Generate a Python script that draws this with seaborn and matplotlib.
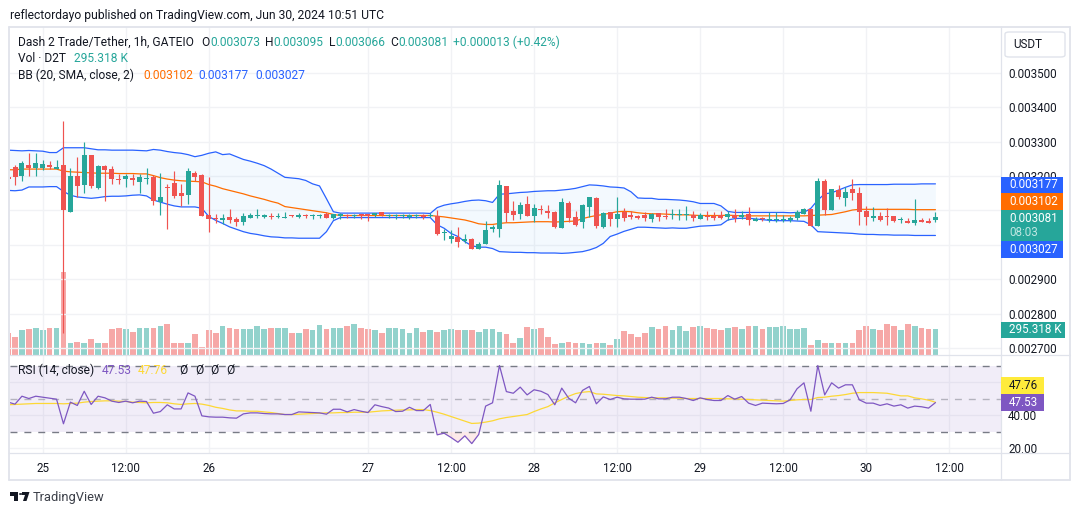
import matplotlib
matplotlib.use("Agg")
import numpy as np
import pandas as pd
import matplotlib.pyplot as plt
import seaborn as sns
from matplotlib.patches import Rectangle, FancyBboxPatch, Circle, Polygon
from matplotlib.lines import Line2D

# prices are in millionths of USDT, volume in thousands
opens = [3196,3226,3200,3232,3223,3223,3232,3220,3232,3095,
         3200,3174,3261,3165,3229,3220,3191,3191,3194,3183,
         3192,3197,3125,3168,3180,3151,3145,3209,3203,3087,
         3078,3072,3081,3075,3066,3078,3084,3081,3084,3082,
         3079,3085,3082,3087,3083,3083,3090,3078,3083,3086,
         3083,3087,3087,3086,3095,3083,3084,3084,3082,3084,
         3087,3083,3083,3035,3017,3023,3011,3017,2988,3002,
         3046,3046,3171,3098,3089,3119,3084,3105,3098,3095,
         3049,3121,3081,3066,3110,3136,3052,3095,3075,3095,
         3087,3084,3087,3075,3092,3084,3086,3087,3086,3087,
         3075,3084,3084,3086,3081,3087,3081,3089,3070,3078,
         3072,3072,3072,3072,3078,3089,3104,3055,3185,3101,
         3159,3136,3162,3151,3098,3078,3084,3084,3084,3073,
         3069,3063,3072,3069,3073]
highs = [3205,3232,3244,3267,3267,3247,3244,3247,3360,3222,
         3255,3299,3261,3232,3232,3229,3206,3206,3206,3206,
         3223,3203,3209,3177,3215,3177,3223,3215,3206,3197,
         3090,3090,3104,3081,3093,3093,3104,3090,3093,3093,
         3096,3087,3093,3090,3090,3090,3096,3090,3092,3089,
         3089,3090,3090,3092,3095,3089,3088,3089,3089,3089,
         3089,3092,3101,3046,3043,3052,3031,3020,3008,3069,
         3058,3188,3171,3127,3124,3142,3119,3116,3116,3098,
         3136,3127,3098,3119,3139,3139,3095,3095,3139,3107,
         3098,3087,3095,3092,3092,3104,3104,3104,3113,3098,
         3092,3098,3095,3098,3098,3104,3098,3110,3081,3081,
         3095,3095,3087,3084,3101,3107,3104,3194,3191,3162,
         3174,3168,3191,3168,3113,3110,3095,3107,3084,3081,
         3078,3133,3078,3078,3095]
lows = [3180,3174,3186,3200,3200,3218,3220,3219,2744,3095,
        3139,3151,3165,3162,3127,3177,3177,3168,3174,3151,
        3177,3116,3087,3046,3136,3113,3119,3186,3084,3037,
        3064,3061,3062,3055,3058,3078,3078,3078,3075,3078,
        3078,3081,3078,3078,3075,3078,3078,3074,3075,3078,
        3078,3075,3069,3081,3083,3078,3075,3078,3075,3078,
        3075,3081,3028,3014,3005,2994,3005,2988,2988,3002,
        3037,3023,3066,3072,3075,3084,3066,3089,3078,3049,
        3049,3066,3055,3049,3081,3049,3049,3055,3052,3069,
        3075,3075,3069,3066,3069,3075,3075,3072,3072,3069,
        3075,3072,3072,3075,3072,3066,3075,3058,3069,3069,
        3066,3066,3066,3066,3072,3089,3055,3055,3087,3101,
        3133,3113,3130,3058,3058,3069,3069,3058,3066,3063,
        3063,3058,3066,3063,3066]
closes = [3190,3197,3238,3223,3238,3235,3226,3226,3101,3200,
          3171,3261,3171,3229,3218,3191,3189,3200,3189,3197,
          3194,3127,3139,3166,3142,3142,3215,3197,3084,3075,
          3075,3078,3072,3066,3084,3087,3087,3086,3082,3084,
          3081,3083,3087,3084,3085,3085,3078,3089,3089,3084,
          3086,3085,3085,3091,3086,3087,3086,3086,3087,3087,
          3080,3087,3031,3037,3026,3008,3017,2988,3002,3043,
          3052,3174,3092,3087,3116,3084,3107,3102,3092,3052,
          3124,3078,3058,3116,3139,3055,3092,3075,3089,3078,
          3081,3078,3078,3089,3081,3082,3089,3089,3087,3078,
          3087,3080,3078,3078,3089,3078,3087,3072,3075,3074,
          3075,3075,3075,3078,3095,3104,3055,3185,3101,3162,
          3139,3153,3151,3095,3081,3084,3072,3082,3069,3075,
          3063,3072,3066,3063,3081]
volumes = [259,212,283,295,318,283,318,318,967,141,
           153,141,177,130,141,295,307,295,271,307,
           318,318,330,354,141,141,141,236,83,283,
           259,330,318,295,295,295,330,295,318,307,
           307,259,259,295,283,342,295,307,307,330,
           365,318,295,283,248,318,318,295,248,307,
           271,283,271,283,295,283,283,283,271,295,
           295,267,244,138,197,326,303,314,208,126,
           138,149,138,138,126,138,138,114,185,279,
           244,208,255,326,303,338,291,338,279,326,
           338,314,303,291,314,326,303,338,338,303,
           326,326,338,303,303,314,114,173,138,138,
           138,138,138,291,338,303,291,362,338,291,
           362,338,314,303,295]
bb_upper = [3275,3274,3273,3274,3273,3272,3268,3268,3282,3282,
            3282,3282,3279,3276,3276,3275,3275,3275,3275,3274,
            3273,3277,3275,3271,3268,3266,3262,3256,3260,3266,
            3270,3262,3264,3256,3248,3243,3237,3230,3220,3208,
            3196,3194,3192,3187,3177,3171,3134,3096,3092,3092,
            3092,3092,3092,3092,3092,3092,3092,3092,3092,3092,
            3092,3091,3108,3115,3119,3122,3126,3129,3130,3128,
            3123,3147,3148,3150,3152,3153,3155,3156,3157,3157,
            3159,3161,3164,3169,3174,3173,3171,3168,3167,3165,
            3154,3136,3135,3135,3132,3132,3131,3130,3128,3125,
            3120,3120,3120,3113,3097,3094,3094,3094,3094,3094,
            3094,3094,3094,3093,3094,3094,3106,3130,3148,3151,
            3159,3167,3174,3175,3175,3175,3175,3175,3176,3176,
            3176,3176,3177,3177,3177]
bb_mid = [3218,3218,3220,3220,3220,3220,3220,3220,3214,3212,
          3211,3210,3209,3208,3208,3208,3207,3207,3207,3206,
          3206,3201,3195,3191,3188,3186,3185,3184,3183,3175,
          3170,3163,3158,3153,3148,3142,3137,3132,3126,3121,
          3111,3108,3105,3102,3099,3096,3093,3088,3085,3085,
          3085,3085,3085,3085,3085,3085,3085,3085,3085,3085,
          3085,3085,3083,3081,3078,3075,3072,3067,3061,3059,
          3059,3062,3064,3064,3065,3066,3067,3067,3067,3066,
          3067,3068,3069,3076,3081,3085,3088,3092,3096,3097,
          3096,3093,3091,3090,3090,3089,3088,3087,3087,3086,
          3085,3085,3085,3085,3086,3085,3084,3084,3084,3084,
          3084,3084,3084,3084,3084,3084,3085,3086,3087,3088,
          3092,3096,3101,3103,3103,3103,3103,3103,3103,3103,
          3103,3102,3102,3102,3102]
bb_lower = [3158,3157,3159,3168,3168,3168,3169,3169,3155,3144,
            3139,3137,3135,3137,3140,3141,3141,3142,3144,3145,
            3142,3130,3124,3118,3113,3110,3110,3110,3106,3082,
            3071,3062,3052,3045,3038,3033,3030,3026,3023,3022,
            3020,3020,3019,3019,3019,3019,3038,3070,3079,3079,
            3079,3079,3079,3079,3079,3079,3079,3079,3079,3079,
            3079,3079,3058,3048,3033,3024,3009,2997,2993,2993,
            2989,2980,2979,2978,2978,2977,2977,2976,2976,2976,
            2975,2976,2978,2980,2985,2992,3004,3024,3031,3039,
            3045,3051,3051,3050,3049,3048,3049,3048,3048,3051,
            3054,3055,3056,3058,3072,3076,3077,3077,3075,3073,
            3071,3070,3070,3070,3069,3068,3058,3038,3037,3036,
            3035,3034,3033,3031,3030,3030,3029,3029,3028,3028,
            3028,3027,3027,3027,3027]
rsi = [47.8,46.6,51.4,50.0,51.4,50.8,50.2,49.6,34.7,47.8,
       45.8,54.4,46.4,51.4,50.4,48.4,47.6,48.4,47.4,48.4,
       48.2,41.1,42.1,46.2,43.7,43.7,53.4,51.4,39.5,38.9,
       38.7,38.7,38.3,38.1,40.7,41.3,41.3,40.9,40.7,40.7,
       40.3,40.3,41.9,41.7,41.5,41.3,40.5,43.5,43.5,41.9,
       43.3,42.3,41.5,46.2,45.1,44.2,42.1,42.3,44.7,42.7,
       42.7,46.4,28.0,29.0,26.4,23.5,27.4,22.7,28.2,45.4,
       47.4,70.0,54.2,53.2,56.9,52.2,55.3,54.4,52.4,46.2,
       56.3,50.2,47.4,54.9,57.3,46.8,51.0,49.4,50.8,49.8,
       49.6,49.6,49.6,50.8,49.8,49.8,50.8,50.8,50.0,48.8,
       50.4,49.4,48.8,48.8,51.8,49.6,51.2,47.2,45.8,47.2,
       47.0,46.8,47.0,49.2,55.9,59.5,42.3,70.0,52.2,59.5,
       56.3,58.3,58.3,49.2,47.2,47.2,45.8,46.8,45.4,46.2,
       44.2,45.4,45.0,44.2,47.53]
rsi_ma = [46.2,46.4,46.6,46.8,47.0,47.0,47.0,47.0,46.8,47.0,
          47.2,47.8,48.2,48.4,48.6,48.6,48.4,48.2,47.8,47.6,
          47.4,47.6,47.6,47.4,46.8,46.4,46.8,47.0,46.6,45.8,
          44.7,44.0,43.1,42.5,42.5,42.3,42.3,41.9,41.5,40.9,
          40.3,40.3,40.5,40.7,40.9,41.1,41.3,41.3,41.5,41.5,
          41.7,41.7,41.7,42.1,42.5,42.7,42.9,43.1,43.1,43.3,
          43.3,42.7,41.7,40.5,39.1,37.7,36.3,34.9,35.1,35.7,
          36.5,37.7,38.5,39.1,39.7,40.3,42.1,43.7,45.1,47.4,
          49.4,51.4,53.0,53.8,54.2,52.8,52.6,52.2,51.8,51.6,
          51.2,50.8,50.6,50.4,50.4,50.4,50.2,50.2,50.0,50.0,
          50.0,50.0,50.0,50.0,49.8,49.8,49.6,49.4,49.2,49.0,
          48.8,48.6,48.4,48.8,49.2,49.4,49.4,50.6,50.8,51.4,
          51.8,52.4,53.2,53.6,53.6,53.6,53.4,53.2,52.4,51.6,
          51.6,50.4,49.8,49.0,47.76]

time_ticks = [5, 17, 29, 52, 64, 76, 88, 100, 112, 124, 136]
time_labels = ["25", "12:00", "26", "27", "12:00", "28", "12:00", "29", "12:00", "30", "12:00"]
price_ticks = [0.0027, 0.0028, 0.0029, 0.0030, 0.0031, 0.0032, 0.0033, 0.0034, 0.0035]
# 0.0030 and 0.0031 sit fully behind the price tags in the original
price_labels = ["0.002700", "0.002800", "0.002900", "", "", "0.003200", "0.003300", "0.003400", "0.003500"]
rsi_ticks = [20, 40, 60]
rsi_labels = ["20.00", "40.00", ""]

GREEN = "#26a69a"
RED = "#ef5350"
BLUE = "#2962ff"
ORANGE = "#ff6d00"
PURPLE = "#7e57c2"
YELLOW = "#fdd835"
INK = "#131722"
GRID = "#f1f2f5"
FRAME = "#e0e3eb"
W, H = 1080, 515

sns.set_style("white")
plt.rcParams["font.family"] = ["Roboto", "DejaVu Sans"]

df = pd.DataFrame({"open": opens, "high": highs, "low": lows, "close": closes,
                   "volume": volumes, "upper": bb_upper, "mid": bb_mid, "lower": bb_lower,
                   "rsi": rsi, "rsi_ma": rsi_ma})
for col in ["open", "high", "low", "close", "upper", "mid", "lower"]:
    df[col] = df[col] / 1e6
df["bar"] = np.arange(len(df))
df["direction"] = np.where(df["close"] >= df["open"], "up", "down")
palette = {"up": GREEN, "down": RED}
bar_colors = df["direction"].map(palette)


def rect(top, bottom, left=10, right=1000.5):
    return [left / W, 1 - bottom / H, (right - left) / W, (bottom - top) / H]


fig = plt.figure(figsize=(W / 100, H / 100), dpi=100, facecolor="white")
ax_vol = fig.add_axes(rect(27, 354.5), zorder=1)
ax = fig.add_axes(rect(27, 354.5), zorder=2, facecolor="none")
ax_rsi = fig.add_axes(rect(355.5, 452.5), zorder=1)

xlim = (0.275, 143.4)

# volume sits at the bottom of the price pane
sns.barplot(data=df, x="bar", y="volume", hue="direction", palette=palette, dodge=False,
            native_scale=True, width=0.82, saturation=1, alpha=0.5, legend=False,
            linewidth=0, edgecolor="none", ax=ax_vol)
ax_vol.set_xlim(xlim)
ax_vol.set_ylim(0, 3859)
ax_vol.set_xticks([])
ax_vol.set_yticks([])
ax_vol.set_xlabel("")
ax_vol.set_ylabel("")

# bollinger bands
ax.fill_between(df["bar"], df["lower"], df["upper"], color="#2196f3", alpha=0.05, lw=0, zorder=1)
for col, color in [("upper", BLUE), ("lower", BLUE), ("mid", ORANGE)]:
    sns.lineplot(data=df, x="bar", y=col, color=color, lw=0.9, estimator=None, ax=ax, zorder=2)

# candles
ax.vlines(df["bar"], df["low"], df["high"], colors=bar_colors, lw=0.85, zorder=3)
body_low = df[["open", "close"]].min(axis=1)
body_h = (df["open"] - df["close"]).abs().clip(lower=3e-6)
ax.bar(df["bar"], body_h, bottom=body_low, width=0.72, color=bar_colors, lw=0, zorder=4)

ax.set_xlim(xlim)
ax.set_ylim(0.002681, 0.003633)
ax.set_xticks(time_ticks)
ax.set_yticks(price_ticks)
ax.set_yticklabels(price_labels)
ax.yaxis.tick_right()
ax.tick_params(axis="y", length=0, pad=5.5, labelsize=8.4, labelcolor=INK)
ax.tick_params(axis="x", length=0, labelbottom=False)
ax.grid(True, color=GRID, lw=1)
ax.set_axisbelow(True)
ax.set_xlabel("")
ax.set_ylabel("")

# rsi pane
ax_rsi.axhspan(30, 70, color=PURPLE, alpha=0.1, lw=0, zorder=1)
ax_rsi.fill_between(df["bar"], df["rsi"], 30, where=df["rsi"] < 30, color=RED, alpha=0.12,
                    lw=0, zorder=1, interpolate=True)
ax_rsi.axhline(70, color="#787b86", lw=1, dashes=(5, 5), zorder=2)
ax_rsi.axhline(30, color="#787b86", lw=1, dashes=(5, 5), zorder=2)
ax_rsi.axhline(50, color="#787b86", lw=1, dashes=(5, 5), alpha=0.5, zorder=2)
sns.lineplot(data=df, x="bar", y="rsi_ma", color=YELLOW, lw=0.9, estimator=None, ax=ax_rsi, zorder=3)
sns.lineplot(data=df, x="bar", y="rsi", color=PURPLE, lw=0.9, estimator=None, ax=ax_rsi, zorder=4)
ax_rsi.set_xlim(xlim)
ax_rsi.set_ylim(17.3, 76.06)
ax_rsi.set_xticks(time_ticks)
ax_rsi.set_xticklabels(time_labels)
ax_rsi.set_yticks(rsi_ticks)
ax_rsi.set_yticklabels(rsi_labels)
ax_rsi.yaxis.tick_right()
ax_rsi.tick_params(axis="y", length=0, pad=5.5, labelsize=8.4, labelcolor=INK)
ax_rsi.tick_params(axis="x", length=0, pad=6.5, labelsize=8.4, labelcolor=INK)
ax_rsi.grid(True, color=GRID, lw=1)
ax_rsi.set_axisbelow(True)
ax_rsi.set_xlabel("")
ax_rsi.set_ylabel("")

for a in [ax_vol, ax, ax_rsi]:
    sns.despine(ax=a, left=True, bottom=True, right=True, top=True)


def px(x, y):
    return x / W, 1 - y / H


def label(x, y, s, color=INK, size=8.4, **kw):
    fig.text(x / W, 1 - y / H, s, color=color, fontsize=size, va="center", **kw)


def frame_line(x0, y0, x1, y1, lw=0.9):
    fig.add_artist(Line2D([x0 / W, x1 / W], [1 - y0 / H, 1 - y1 / H], color=FRAME, lw=lw, zorder=6))


frame_line(9, 26.5, 1070, 26.5, 1.3)
frame_line(9, 26.5, 9, 480, 1.3)
frame_line(1070, 26.5, 1070, 480, 1.3)
frame_line(9, 480, 1070, 480, 1.3)
frame_line(1000.5, 26.5, 1000.5, 480)
frame_line(9, 355, 1070, 355)
frame_line(9, 452.5, 1070, 452.5)


def price_tag(y0, y1, s, color, right=1063, text_color="white"):
    fig.add_artist(Rectangle(px(1000.5, y1), (right - 1000.5) / W, (y1 - y0) / H, color=color,
                             lw=0, zorder=8))
    fig.text(1009 / W, 1 - (y0 + y1) / 2 / H, s, color=text_color, fontsize=8.4,
             va="center", zorder=9)


price_tag(176.5, 192.7, "0.003177", BLUE)
price_tag(192.7, 209.5, "0.003102", ORANGE)
fig.add_artist(Rectangle(px(1000.5, 240.7), 62.5 / W, 31.2 / H, color=GREEN, lw=0, zorder=8))
fig.text(1009 / W, 1 - 218 / H, "0.003081", color="white", fontsize=8.4, va="center", zorder=9)
fig.text(1009 / W, 1 - 232.5 / H, "08:03", color="#bfe6e1", fontsize=8.4, va="center", zorder=9)
price_tag(240.7, 257.7, "0.003027", BLUE)
price_tag(321.7, 337.7, "295.318 K", GREEN, right=1065)
price_tag(377, 394, "47.76", "#ffeb3b", right=1044, text_color=INK)
price_tag(394, 410.7, "47.53", PURPLE, right=1044)

fig.add_artist(FancyBboxPatch(px(1005, 57), 60 / W, 25 / H, transform=fig.transFigure,
                              boxstyle="round,pad=0,rounding_size=0.004", fc="white", ec=FRAME,
                              lw=1, zorder=7))
fig.text(1013 / W, 1 - 44.5 / H, "USDT", color=INK, fontsize=8.4, va="center", zorder=8)

# legends and captions
label(9.5, 15, "reflectordayo published on TradingView.com, Jun 30, 2024 10:51 UTC", size=8.72)
label(18, 42.5, "Dash 2 Trade/Tether, 1h, GATEIO", size=8.65)
for x, s in [(201, "O"), (265.5, "H"), (329, "L"), (390, "C")]:
    label(x, 42.5, s, size=8.65)
for x, s in [(210, "0.003073"), (273, "0.003095"), (335, "0.003066"), (398, "0.003081"),
             (453, "+0.000013 (+0.42%)")]:
    label(x, 42.5, s, color=GREEN, size=8.65)
label(18, 59, "Vol · D2T", size=8.65)
label(73.5, 59, "295.318 K", color=GREEN, size=8.65)
label(18, 75.5, "BB (20, SMA, close, 2)", size=8.65)
label(143, 75.5, "0.003102", color=ORANGE, size=8.65)
label(198.5, 75.5, "0.003177", color=BLUE, size=8.65)
label(255, 75.5, "0.003027", color=BLUE, size=8.65)
label(18, 370, "RSI (14, close)", size=8.65)
label(102, 370, "47.53", color=PURPLE, size=8.65)
label(138, 370, "47.76", color=YELLOW, size=8.65)
for x in [179, 195, 210, 226]:
    label(x, 370, "Ø", size=8.65)

# tradingview mark
fig.add_artist(Rectangle(px(10, 495.5), 8 / W, 3.5 / H, color=INK, lw=0))
fig.add_artist(Rectangle(px(14, 501), 4 / W, 6 / H, color=INK, lw=0))
fig.add_artist(Circle(px(20.7, 494), 1.8 / W, color=INK, lw=0))
fig.add_artist(Polygon([px(23, 501), px(26, 492), px(29.5, 492), px(26.5, 501)], closed=True, color=INK, lw=0))
fig.add_artist(Polygon([px(22, 492), px(27, 492), px(26, 495), px(22, 495)], closed=True, color=INK, lw=0))
label(33, 497, "TradingView", color="#3b3f48", size=9.3)

fig.savefig("out.png", dpi=100)
